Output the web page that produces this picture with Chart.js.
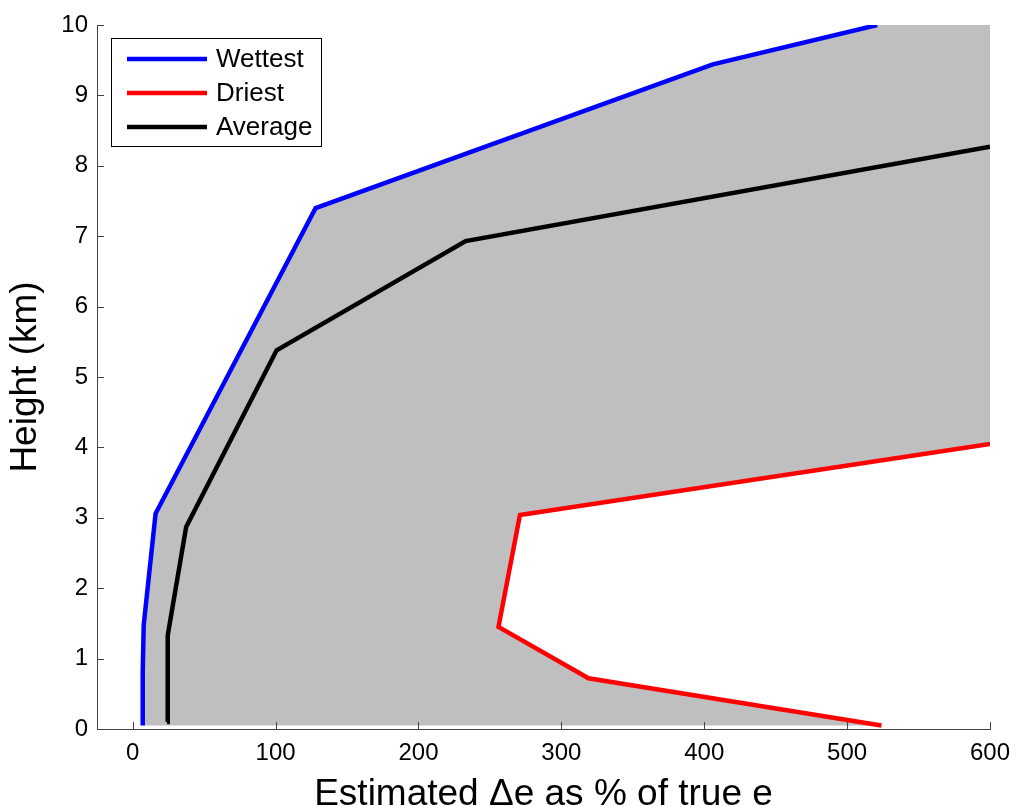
<!DOCTYPE html>
<html>
<head>
<meta charset="utf-8">
<title>Estimated Δe profiles</title>
<script src="https://cdn.jsdelivr.net/npm/chart.js@4/dist/chart.umd.min.js"></script>
<style>
  html, body { margin: 0; padding: 0; background: #ffffff; }
  canvas { display: block; }
</style>
</head>
<body>
<canvas id="chart" width="1016" height="806"></canvas>
<script>
// Error profiles: estimated Δe (% of true e) against height (km)
const wettestPct = [7, 7, 7.7, 16, 128, 406, 521];
const wettestKm  = [0.05, 0.8, 1.48, 3.06, 7.4, 9.44, 10];

const driestPct  = [524, 319, 256, 271, 600];
const driestKm   = [0.05, 0.72, 1.45, 3.04, 4.05];

const averagePct = [24, 24.5, 37.4, 100.7, 233, 600];
const averageKm  = [0.1, 1.33, 2.87, 5.38, 6.93, 8.27];

const seriesLabels = ['Wettest', 'Driest', 'Average'];
const seriesColors = ['#0000ff', '#ff0000', '#000000'];

const xTickValues = [0, 100, 200, 300, 400, 500, 600];
const yTickValues = [0, 1, 2, 3, 4, 5, 6, 7, 8, 9, 10];

const FONT = '"Liberation Sans", Arial, Helvetica, sans-serif';
const AXIS_COLOR = '#444444';

const toPoints = (xs, ys) => xs.map((x, i) => ({ x: x, y: ys[i] }));

// Grey band between the wettest and driest profiles (open to the upper right)
const bandPlugin = {
  id: 'band',
  beforeDatasetsDraw(chart) {
    const { ctx, chartArea, scales: { x, y } } = chart;
    const wet = toPoints(wettestPct, wettestKm);
    const dry = toPoints(driestPct, driestKm);
    const poly = [];
    wet.forEach(p => poly.push([x.getPixelForValue(p.x), y.getPixelForValue(p.y)]));
    poly.push([x.getPixelForValue(x.max), y.getPixelForValue(y.max)]);
    dry.slice().reverse().forEach(p => poly.push([x.getPixelForValue(p.x), y.getPixelForValue(p.y)]));
    ctx.save();
    ctx.beginPath();
    ctx.rect(chartArea.left, chartArea.top, chartArea.right - chartArea.left, chartArea.bottom - chartArea.top);
    ctx.clip();
    ctx.beginPath();
    poly.forEach((pt, i) => i ? ctx.lineTo(pt[0], pt[1]) : ctx.moveTo(pt[0], pt[1]));
    ctx.closePath();
    ctx.fillStyle = '#bfbfbf';
    ctx.fill();
    ctx.restore();
  }
};

// Inward tick marks on the left and bottom axes
const innerTicksPlugin = {
  id: 'innerTicks',
  afterDatasetsDraw(chart) {
    const { ctx, chartArea, scales: { x, y } } = chart;
    const len = 7;
    ctx.save();
    ctx.strokeStyle = AXIS_COLOR;
    ctx.lineWidth = 1;
    ctx.beginPath();
    x.ticks.forEach(t => {
      const px = Math.round(x.getPixelForValue(t.value)) + 0.5;
      ctx.moveTo(px, chartArea.bottom);
      ctx.lineTo(px, chartArea.bottom - len);
    });
    y.ticks.forEach(t => {
      const py = Math.round(y.getPixelForValue(t.value)) + 0.5;
      ctx.moveTo(chartArea.left, py);
      ctx.lineTo(chartArea.left + len, py);
    });
    ctx.stroke();
    ctx.restore();
  }
};

// Boxed legend in the upper left corner of the plot
const boxLegendPlugin = {
  id: 'boxLegend',
  afterDraw(chart) {
    const { ctx, chartArea } = chart;
    const bx = chartArea.left + 14, by = chartArea.top + 13;
    const bw = 210, bh = 108;
    ctx.save();
    ctx.fillStyle = '#ffffff';
    ctx.fillRect(bx, by, bw, bh);
    ctx.strokeStyle = '#000000';
    ctx.lineWidth = 1;
    ctx.strokeRect(bx + 0.5, by + 0.5, bw, bh);
    ctx.font = '26px ' + FONT;
    ctx.textBaseline = 'middle';
    ctx.textAlign = 'left';
    chart.data.datasets.forEach((ds, i) => {
      const rowY = by + 21 + i * 34;
      ctx.strokeStyle = ds.borderColor;
      ctx.lineWidth = 4.5;
      ctx.beginPath();
      ctx.moveTo(bx + 16, rowY);
      ctx.lineTo(bx + 96, rowY);
      ctx.stroke();
      ctx.fillStyle = '#000000';
      ctx.fillText(ds.label, bx + 105, rowY + 1);
    });
    ctx.restore();
  }
};

const datasets = [
  { label: seriesLabels[0], data: toPoints(wettestPct, wettestKm), borderColor: seriesColors[0] },
  { label: seriesLabels[1], data: toPoints(driestPct, driestKm), borderColor: seriesColors[1] },
  { label: seriesLabels[2], data: toPoints(averagePct, averageKm), borderColor: seriesColors[2] }
].map(d => Object.assign(d, {
  borderWidth: 4.5,
  pointRadius: 0,
  pointHoverRadius: 0,
  tension: 0,
  fill: false,
  backgroundColor: d.borderColor
}));

new Chart(document.getElementById('chart'), {
  type: 'line',
  data: { datasets: datasets },
  plugins: [bandPlugin, innerTicksPlugin, boxLegendPlugin],
  options: {
    responsive: false,
    animation: false,
    devicePixelRatio: 1,
    layout: { padding: { top: 25, right: 26, left: 0, bottom: 0 } },
    plugins: { legend: { display: false }, tooltip: { enabled: false } },
    scales: {
      x: {
        type: 'linear',
        min: -25,
        max: 600,
        afterBuildTicks: s => { s.ticks = xTickValues.map(v => ({ value: v })); },
        afterFit: s => { s.height = 77; s.paddingLeft = 0; s.paddingRight = 0; },
        grid: { display: false, drawTicks: false, tickLength: 0 },
        border: { display: true, color: AXIS_COLOR, width: 1 },
        ticks: { color: '#000000', font: { family: FONT, size: 24 }, padding: 10, maxRotation: 0 },
        title: {
          display: true,
          text: 'Estimated Δe as % of true e',
          color: '#000000',
          font: { family: FONT, size: 37, lineHeight: 0.6 },
          padding: { top: 0, bottom: 0 }
        }
      },
      y: {
        type: 'linear',
        min: 0,
        max: 10,
        afterBuildTicks: s => { s.ticks = yTickValues.map(v => ({ value: v })); },
        afterFit: s => { s.width = 97; s.paddingTop = 0; s.paddingBottom = 0; },
        grid: { display: false, drawTicks: false, tickLength: 0 },
        border: { display: true, color: AXIS_COLOR, width: 1 },
        ticks: { color: '#000000', font: { family: FONT, size: 24 }, padding: 9 },
        title: {
          display: true,
          text: 'Height (km)',
          color: '#000000',
          font: { family: FONT, size: 37, lineHeight: 1 },
          padding: { top: 7, bottom: 0 }
        }
      }
    }
  }
});
</script>
</body>
</html>
